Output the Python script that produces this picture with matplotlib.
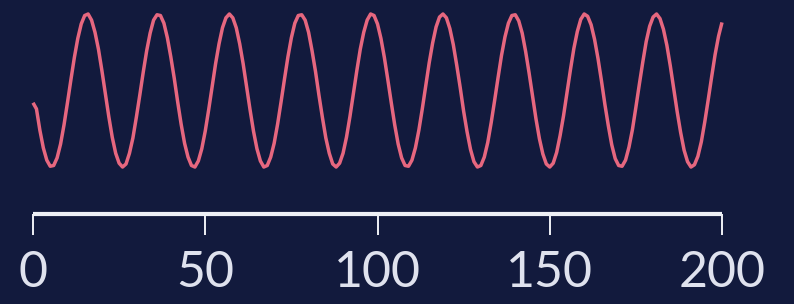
import matplotlib
matplotlib.use("Agg")
import matplotlib.pyplot as plt

# wave values, one per x step
xs = list(range(0, 201))
ys = [-0.16, -0.24, -0.52, -0.75, -0.91, -0.99, -0.98, -0.88, -0.70, -0.45,
      -0.16, 0.14, 0.43, 0.68, 0.87, 0.98, 1.00, 0.92, 0.76, 0.54,
      0.26, -0.04, -0.34, -0.61, -0.82, -0.95, -1.00, -0.96, -0.82, -0.62,
      -0.35, -0.06, 0.24, 0.52, 0.75, 0.92, 0.99, 0.98, 0.88, 0.69,
      0.44, 0.16, -0.15, -0.44, -0.69, -0.87, -0.98, -1.00, -0.92, -0.76,
      -0.53, -0.25, 0.05, 0.35, 0.61, 0.82, 0.95, 1.00, 0.95, 0.82,
      0.61, 0.35, 0.05, -0.25, -0.53, -0.76, -0.92, -1.00, -0.98, -0.87,
      -0.69, -0.44, -0.15, 0.15, 0.44, 0.69, 0.88, 0.98, 0.99, 0.92,
      0.76, 0.52, 0.25, -0.06, -0.35, -0.62, -0.82, -0.96, -1.00, -0.95,
      -0.82, -0.61, -0.34, -0.04, 0.26, 0.54, 0.76, 0.92, 1.00, 0.98,
      0.87, 0.68, 0.43, 0.14, -0.16, -0.45, -0.70, -0.88, -0.98, -0.99,
      -0.91, -0.75, -0.52, -0.24, 0.06, 0.36, 0.62, 0.83, 0.96, 1.00,
      0.95, 0.81, 0.60, 0.33, 0.04, -0.27, -0.54, -0.77, -0.93, -1.00,
      -0.98, -0.87, -0.68, -0.42, -0.13, 0.17, 0.46, 0.70, 0.88, 0.98,
      0.99, 0.91, 0.75, 0.51, 0.23, -0.07, -0.37, -0.63, -0.83, -0.96,
      -1.00, -0.95, -0.81, -0.59, -0.33, -0.03, 0.27, 0.55, 0.77, 0.93,
      1.00, 0.97, 0.86, 0.67, 0.42, 0.13, -0.18, -0.46, -0.71, -0.89,
      -0.98, -0.99, -0.91, -0.74, -0.51, -0.22, 0.08, 0.37, 0.64, 0.84,
      0.96, 1.00, 0.94, 0.80, 0.59, 0.32, 0.02, -0.28, -0.55, -0.78,
      -0.93, -1.00, -0.97, -0.86, -0.67, -0.41, -0.12, 0.18, 0.47, 0.71,
      0.89]
xticks = [0, 50, 100, 150, 200]

bg = "#121a3d"
line_col = "#e6677f"
axis_col = "#eef0f6"

fig = plt.figure(figsize=(7.94, 3.04), dpi=100, facecolor=bg)
W, H = 794, 304
# axes box in pixels: x 33..722, y 14..214 from top
ax = fig.add_axes([33 / W, (H - 214) / H, (722 - 33) / W, 200 / H])
ax.set_facecolor(bg)

ax.plot(xs, ys, color=line_col, lw=2.5, clip_on=False, solid_capstyle="butt")

ax.set_xlim(0, 200)
ax.set_ylim(-1.614, 1.0)
ax.set_xticks(xticks, [str(t) for t in xticks])
ax.set_yticks([])

for s in ["top", "right", "left"]:
    ax.spines[s].set_visible(False)
ax.spines["bottom"].set_color(axis_col)
ax.spines["bottom"].set_linewidth(3)
ax.spines["bottom"].set_capstyle("butt")

ax.tick_params(axis="x", colors=axis_col, length=15, width=1.4, pad=11,
               labelsize=36, labelcolor="#dfe2ee")
for lab in ax.get_xticklabels():
    lab.set_fontfamily("Lato")

fig.savefig("out.png", dpi=100, facecolor=bg)
